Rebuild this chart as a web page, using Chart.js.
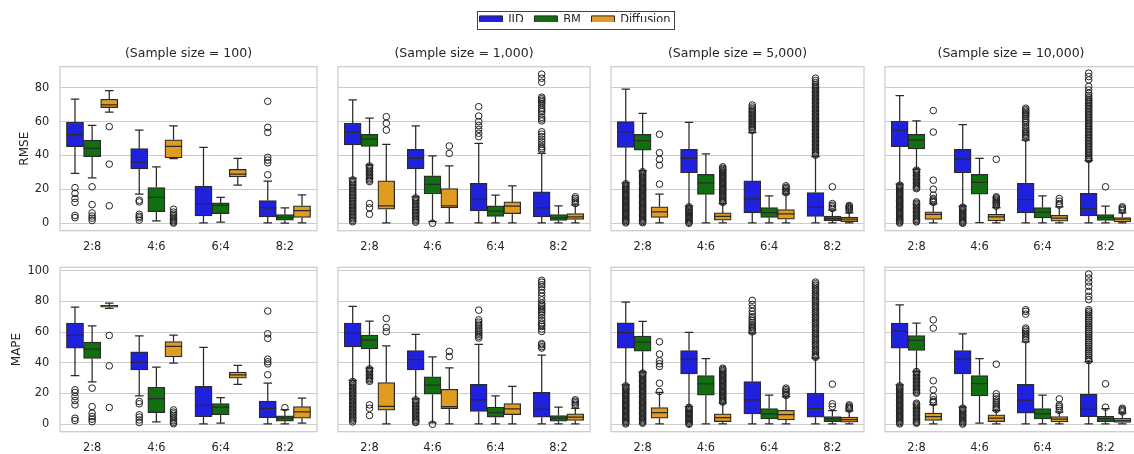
<!DOCTYPE html>
<html>
<head>
<meta charset="utf-8">
<script src="https://cdn.jsdelivr.net/npm/chart.js@4.4.1/dist/chart.umd.min.js"></script>
<style>
  html, body { margin: 0; padding: 0; background: #ffffff; }
  body { width: 1134px; height: 454px; position: relative; overflow: hidden; }
  canvas { position: absolute; }
</style>
</head>
<body>
<script>
// ---- categories and labels ----
const splits = ['2:8', '4:6', '6:4', '8:2'];
const methods = ['IID', 'BM', 'Diffusion'];
const methodColors = ['#2020df', '#107010', '#df9c20'];
const sampleSizes = ['100', '1,000', '5,000', '10,000'];
const rmseTicks = [0, 20, 40, 60, 80];
const mapeTicks = [0, 20, 40, 60, 80, 100];
const rmseRange = [-4.4, 92.4];
const mapeRange = [-4.87, 102.2];

// ---- box statistics per split: [lower whisker, Q1, median, Q3, upper whisker] ----
// RMSE
const rmse100Iid  = [[29.4, 45.2, 52.3, 59.6, 73.2], [17.2, 32.1, 36.1, 44.0, 55.0], [0.2, 4.3, 11.6, 21.9, 44.8], [0.2, 3.7, 9.1, 13.4, 24.9]];
const rmse100Bm   = [[26.8, 39.3, 44.2, 49.1, 57.8], [1.4, 6.9, 15.2, 21.1, 33.3], [0.6, 5.7, 10.5, 12.0, 15.2], [0.0, 1.8, 3.4, 5.1, 9.1]];
const rmse100Diff = [[65.6, 68.2, 69.8, 73.2, 78.3], [38.1, 38.5, 45.4, 49.3, 57.4], [22.5, 27.4, 29.0, 31.8, 38.3], [0.2, 3.4, 7.5, 10.3, 16.8]];

const rmse1000Iid  = [[26.6, 46.2, 53.6, 59.0, 72.8], [15.6, 32.0, 38.3, 43.6, 57.4], [0.2, 7.3, 14.2, 23.5, 47.1], [0.2, 3.7, 9.1, 18.5, 41.2]];
const rmse1000Bm   = [[34.3, 45.4, 49.7, 52.5, 62.1], [1.0, 17.4, 22.9, 28.0, 39.8], [0.2, 4.1, 7.1, 10.3, 16.6], [0.2, 1.6, 3.2, 5.1, 10.3]];
const rmse1000Diff = [[0.2, 8.3, 10.3, 25.0, 46.5], [0.2, 9.1, 10.3, 20.5, 33.9], [0.2, 5.7, 10.1, 12.6, 22.1], [0.2, 2.2, 3.7, 5.7, 10.8]];

const rmse5000Iid  = [[23.9, 44.8, 54.0, 60.0, 79.1], [10.3, 29.8, 38.3, 43.6, 59.6], [0.2, 6.1, 14.4, 25.0, 53.5], [0.2, 4.1, 9.3, 18.1, 39.3]];
const rmse5000Bm   = [[31.0, 43.2, 48.7, 52.5, 64.9], [0.2, 17.0, 23.9, 28.8, 41.0], [0.2, 3.4, 6.3, 9.3, 16.2], [0.2, 1.4, 2.8, 4.3, 7.7]];
const rmse5000Diff = [[0.2, 3.4, 6.7, 9.7, 17.2], [0.2, 1.8, 4.1, 6.1, 11.6], [0.2, 2.4, 5.5, 8.1, 17.4], [0.2, 1.0, 2.4, 3.7, 6.1]];

const rmse10000Iid  = [[23.1, 45.2, 55.0, 60.2, 75.3], [10.1, 29.8, 37.9, 43.6, 58.2], [0.2, 6.1, 14.0, 23.5, 49.1], [0.2, 4.3, 8.7, 17.6, 36.9]];
const rmse10000Bm   = [[31.8, 43.8, 49.1, 52.5, 60.4], [0.4, 17.2, 24.1, 28.8, 38.3], [0.2, 3.2, 6.5, 9.3, 16.2], [0.2, 1.6, 3.4, 5.1, 10.1]];
const rmse10000Diff = [[0.2, 2.2, 5.3, 6.7, 11.5], [0.2, 1.4, 3.7, 5.3, 9.2], [0.2, 1.2, 3.0, 4.7, 9.7], [0.2, 0.8, 2.4, 3.4, 6.1]];

// MAPE
const mape100Iid  = [[31.7, 49.6, 57.8, 65.9, 76.3], [18.5, 35.4, 40.4, 47.2, 57.6], [0.2, 5.0, 12.2, 24.6, 50.0], [0.2, 4.3, 10.4, 15.0, 26.7]];
const mape100Bm   = [[27.6, 42.8, 48.9, 53.5, 64.1], [1.5, 7.6, 16.7, 24.1, 37.2], [0.7, 6.3, 11.1, 13.5, 17.4], [0.2, 2.0, 3.9, 5.4, 9.5]];
const mape100Diff = [[75.4, 76.3, 77.0, 77.4, 78.9], [39.8, 43.9, 50.7, 53.9, 58.0], [25.9, 30.0, 32.2, 33.9, 38.3], [0.7, 3.9, 8.0, 11.5, 17.0]];

const mape1000Iid  = [[28.5, 50.4, 59.1, 65.9, 76.7], [16.5, 35.4, 42.0, 48.0, 58.5], [0.2, 8.3, 15.9, 25.9, 52.0], [0.2, 4.6, 9.8, 20.7, 45.0]];
const mape1000Bm   = [[36.5, 49.1, 54.8, 58.0, 67.2], [0.9, 19.6, 25.4, 30.9, 43.9], [0.2, 4.6, 7.6, 11.1, 18.5], [0.2, 2.0, 3.9, 5.7, 11.1]];
const mape1000Diff = [[0.2, 9.1, 11.7, 27.2, 51.1], [0.2, 10.2, 11.5, 22.8, 36.7], [0.2, 6.3, 10.0, 13.5, 24.6], [0.2, 2.4, 4.6, 6.7, 10.4]];

const mape5000Iid  = [[25.7, 49.6, 59.6, 66.1, 79.6], [11.5, 32.8, 42.4, 48.0, 59.8], [0.2, 6.7, 15.9, 27.8, 59.3], [0.2, 4.6, 10.4, 20.2, 43.0]];
const mape5000Bm   = [[33.9, 47.6, 53.5, 57.4, 67.0], [0.2, 18.9, 26.3, 31.7, 42.8], [0.2, 3.5, 6.7, 10.2, 18.9], [0.2, 1.7, 3.5, 5.0, 8.9]];
const mape5000Diff = [[0.2, 3.9, 7.6, 10.9, 20.7], [0.2, 1.7, 4.3, 6.7, 13.7], [0.2, 2.8, 6.3, 9.1, 18.0], [0.2, 1.3, 3.0, 4.6, 8.7]];

const mape10000Iid  = [[25.7, 49.6, 60.7, 65.9, 77.8], [11.1, 32.8, 42.4, 48.0, 58.9], [0.2, 7.2, 15.7, 25.9, 53.7], [0.2, 5.0, 9.8, 19.6, 40.7]];
const mape10000Bm   = [[34.3, 48.0, 54.6, 57.8, 65.9], [0.7, 18.5, 26.5, 31.7, 42.8], [0.2, 3.5, 6.7, 10.2, 18.9], [0.2, 1.7, 3.7, 5.2, 10.2]];
const mape10000Diff = [[0.2, 2.4, 5.0, 7.2, 12.8], [0.2, 1.7, 3.9, 6.1, 8.9], [0.2, 1.5, 3.3, 5.0, 7.8], [0.2, 1.1, 2.4, 3.9, 7.2]];

// ---- outliers per split ----
const rmse100IidOut  = [[21.0, 17.6, 14.6, 12.3, 4.6, 3.3], [13.6, 12.6, 5.3, 4.1, 3.2, 1.8], [], [72.0, 56.6, 53.6, 38.9, 37.3, 35.7, 28.6]];
const rmse100BmOut   = [[21.5, 11.0, 6.1, 4.3, 3.0, 1.6], [], [], []];
const rmse100DiffOut = [[57.0, 34.9, 10.3], [8.3, 6.6, 5.5, 4.6, 3.7, 2.9, 2.1, 1.4, 0.7, 0.1], [], []];

const rmse1000IidOut = [
  [25.6, 24.7, 23.9, 23.0, 22.2, 21.3, 20.5, 19.6, 18.7, 17.9, 17.0, 16.2, 15.3, 14.5, 13.6, 12.8, 11.9, 11.1, 10.2, 9.4, 8.5, 7.7, 6.8, 6.0, 5.1, 4.3, 3.4, 2.6, 1.7, 0.9],
  [15.0, 14.2, 13.3, 12.5, 11.6, 10.8, 9.9, 9.1, 8.2, 7.4, 6.5, 5.7, 4.8, 4.0, 3.1, 2.3, 1.4, 0.6],
  [68.8, 63.3, 60.0, 57.6, 55.4, 53.1, 51.1],
  [88.0, 85.6, 83.2, 74.4, 73.5, 72.6, 71.8, 70.7, 69.5, 67.9, 66.8, 65.9, 64.4, 62.5, 61.5, 60.4, 54.0, 52.6, 51.1, 49.6, 48.1, 46.7, 45.2, 44.1, 43.2]
];
const rmse1000BmOut   = [[33.8, 33.0, 32.2, 31.3, 30.5, 29.7, 28.8, 28.0, 27.2, 26.3, 25.5, 24.6, 11.6, 9.1, 5.3], [0.0], [], []];
const rmse1000DiffOut = [[62.9, 59.0, 55.0], [45.6, 41.2], [], [15.6, 14.6, 13.6, 12.6, 11.6]];

const rmse5000IidOut = [
  [23.3, 22.6, 21.9, 21.2, 20.5, 19.8, 19.1, 18.4, 17.7, 17.0, 16.3, 15.6, 14.9, 14.2, 13.5, 12.8, 12.1, 11.4, 10.7, 10.0, 9.3, 8.6, 7.9, 7.2, 6.5, 5.8, 5.1, 4.4, 3.7, 3.0, 2.3, 1.6, 0.9, 0.2],
  [9.7, 9.0, 8.3, 7.6, 6.9, 6.2, 5.5, 4.8, 4.1, 3.4, 2.7, 2.0, 1.3, 0.6, 0.0],
  [69.8, 68.6, 67.6, 66.8, 66.0, 65.2, 64.4, 63.6, 62.8, 62.0, 61.2, 60.4, 59.6, 58.8, 58.0, 57.2, 56.4, 55.6, 54.8],
  [85.6, 84.2, 83.0, 81.9, 81.0, 80.2, 79.4, 78.6, 77.8, 77.0, 76.2, 75.4, 74.6, 73.8, 73.0, 72.2, 71.4, 70.6, 69.8, 69.0, 68.2, 67.4, 66.6, 65.8, 65.0, 64.2, 63.4, 62.6, 61.8, 61.0, 60.2, 59.4, 58.6, 57.8, 57.0, 56.2, 55.4, 54.6, 53.8, 53.0, 52.2, 51.4, 50.6, 49.8, 49.0, 48.2, 47.4, 46.6, 45.8, 45.0, 44.2, 43.4, 42.6, 41.8, 41.0, 40.2]
];
const rmse5000BmOut = [
  [30.4, 29.7, 29.0, 28.3, 27.6, 26.9, 26.2, 25.5, 24.8, 24.1, 23.4, 22.7, 22.0, 21.3, 20.6, 19.9, 19.2, 18.5, 17.8, 17.1, 16.4, 15.7, 15.0, 14.3, 13.6, 12.9, 12.2, 11.5, 10.8, 10.1, 9.4, 8.7, 8.0, 7.3, 6.6, 5.9, 5.2, 4.5, 3.8, 3.1, 2.4, 1.7, 1.0, 0.3],
  [], [], [21.5, 11.6, 10.6, 9.7, 8.7]
];
const rmse5000DiffOut = [
  [52.5, 41.6, 37.7, 34.3, 23.1],
  [33.3, 32.5, 31.8, 31.1, 30.4, 29.7, 29.0, 28.3, 27.6, 26.9, 26.2, 25.5, 24.8, 24.1, 23.4, 22.7, 22.0, 21.3, 20.6, 19.9, 19.2, 18.5, 17.8, 17.1, 16.4, 15.7, 15.0, 14.3, 13.6, 12.9, 12.3],
  [22.1, 21.2, 20.4, 19.6, 18.8, 18.0],
  [10.5, 9.9, 9.3, 8.7, 8.1, 7.6]
];

const rmse10000IidOut = [
  [22.5, 21.8, 21.1, 20.4, 19.7, 19.0, 18.3, 17.6, 16.9, 16.2, 15.5, 14.8, 14.1, 13.4, 12.7, 12.0, 11.3, 10.6, 9.9, 9.2, 8.5, 7.8, 7.1, 6.4, 5.7, 5.0, 4.3, 3.6, 2.9, 2.2, 1.5, 0.8, 0.1],
  [9.5, 8.8, 8.1, 7.4, 6.7, 6.0, 5.3, 4.6, 3.9, 3.2, 2.5, 1.8, 1.1, 0.4, 0.0],
  [67.9, 67.0, 66.2, 65.4, 64.6, 63.8, 62.9, 61.8, 60.6, 59.4, 58.0, 56.5, 55.2, 54.2, 53.4, 52.6, 51.8, 51.0, 50.2],
  [88.6, 86.6, 84.6, 80.7, 78.7, 76.7, 75.4, 74.2, 73.2, 72.3, 71.4, 70.5, 69.6, 68.7, 67.8, 66.9, 66.0, 65.1, 64.2, 63.3, 62.4, 61.5, 60.6, 59.7, 58.8, 57.9, 57.0, 56.1, 55.2, 54.3, 53.4, 52.5, 51.6, 50.7, 49.8, 48.9, 48.0, 47.1, 46.2, 45.3, 44.4, 43.5, 42.6, 41.7, 40.8, 39.9, 39.0, 38.1, 37.6]
];
const rmse10000BmOut = [
  [31.4, 30.6, 29.8, 29.0, 28.2, 27.4, 26.6, 25.8, 25.0, 24.2, 23.4, 22.6, 21.8, 21.0, 20.4, 12.6, 11.8, 11.0, 10.2, 9.4, 8.6, 7.8, 7.0, 6.2, 5.4, 4.6, 3.8, 3.0, 2.2, 1.4, 0.8],
  [], [], [21.5]
];
const rmse10000DiffOut = [
  [66.5, 53.8, 25.4, 20.1, 16.6, 14.6, 13.8, 13.0, 12.3],
  [37.7, 15.6, 15.0, 14.3, 13.6, 12.9, 12.2, 11.5, 10.8, 10.1],
  [14.6, 13.0, 11.6, 10.7],
  [9.7, 9.0, 8.3, 7.5]
];

const mape100IidOut  = [[22.4, 20.7, 18.0, 15.4, 12.6, 3.9, 2.4], [14.8, 13.3, 6.1, 4.6, 2.8, 1.1], [], [73.7, 58.9, 55.9, 42.4, 40.7, 39.3, 32.2]];
const mape100BmOut   = [[23.5, 11.5, 7.2, 5.0, 3.3, 1.7], [], [], [10.8]];
const mape100DiffOut = [[57.8, 38.0, 10.9], [9.3, 7.9, 6.8, 5.6, 4.5, 3.4, 2.3, 1.2, 0.3], [], []];

const mape1000IidOut = [
  [27.8, 26.9, 26.0, 25.1, 24.2, 23.3, 22.4, 21.5, 20.6, 19.7, 18.8, 17.9, 17.0, 16.1, 15.2, 14.3, 13.4, 12.5, 11.6, 10.7, 9.8, 8.9, 8.0, 7.1, 6.2, 5.3, 4.4, 3.5, 2.6, 1.5],
  [15.9, 15.0, 14.1, 13.2, 12.3, 11.4, 10.5, 9.6, 8.7, 7.8, 6.9, 6.0, 5.1, 4.2, 3.3, 2.4, 1.5, 1.1],
  [74.3, 68.0, 66.5, 65.2, 63.9, 62.6, 61.4, 60.4, 59.3, 58.3, 57.2, 56.1],
  [93.7, 92.5, 90.9, 89.5, 87.6, 85.5, 83.3, 81.0, 78.9, 77.8, 76.7, 75.6, 74.6, 73.5, 72.4, 71.0, 69.1, 67.5, 65.9, 64.8, 63.7, 62.0, 60.4, 52.5, 51.7, 50.5, 49.6]
];
const mape1000BmOut   = [[36.0, 35.1, 34.2, 33.3, 32.4, 31.5, 30.6, 29.7, 28.8, 27.9, 12.6, 10.4, 5.7], [0.0], [], []];
const mape1000DiffOut = [[68.9, 63.0, 60.2], [47.4, 44.1], [], [15.9, 15.0, 14.0, 13.0, 12.0]];

const mape5000IidOut = [
  [25.0, 24.2, 23.4, 22.6, 21.8, 21.0, 20.2, 19.4, 18.6, 17.8, 17.0, 16.2, 15.4, 14.6, 13.8, 13.0, 12.2, 11.4, 10.6, 9.8, 9.0, 8.2, 7.4, 6.6, 5.8, 5.0, 4.2, 3.4, 2.6, 1.8, 1.0, 0.2],
  [11.0, 10.2, 9.4, 8.6, 7.8, 7.0, 6.2, 5.4, 4.6, 3.8, 3.0, 2.2, 1.4, 0.6, 0.0],
  [80.7, 78.0, 75.6, 73.5, 71.6, 70.0, 68.6, 67.4, 66.2, 65.1, 64.0, 63.0, 62.0, 61.0, 60.1],
  [92.6, 91.5, 90.4, 89.3, 88.2, 87.1, 86.0, 84.9, 83.8, 82.7, 81.6, 80.5, 79.4, 78.3, 77.2, 76.1, 75.0, 73.9, 72.8, 71.7, 70.6, 69.5, 68.4, 67.3, 66.2, 65.1, 64.0, 62.9, 61.8, 60.7, 59.6, 58.5, 57.4, 56.3, 55.2, 54.1, 53.0, 51.9, 50.8, 49.7, 48.6, 47.5, 46.4, 45.3, 44.2, 43.6]
];
const mape5000BmOut = [
  [33.3, 32.5, 31.7, 30.9, 30.1, 29.3, 28.5, 27.7, 26.9, 26.1, 25.3, 24.5, 23.7, 22.9, 22.1, 21.3, 20.5, 19.7, 18.9, 18.1, 17.3, 16.5, 15.7, 14.9, 14.1, 13.3, 12.5, 11.7, 10.9, 10.1, 9.3, 8.5, 7.7, 6.9, 6.1, 5.3, 4.5, 3.7, 2.9, 2.1, 1.3, 0.7],
  [], [], [26.1, 13.3, 11.5]
];
const mape5000DiffOut = [
  [53.7, 45.7, 41.3, 39.4, 37.6, 26.7, 21.3],
  [36.5, 35.7, 34.9, 34.1, 33.3, 32.5, 31.7, 30.9, 30.1, 29.3, 28.5, 27.7, 26.9, 26.1, 25.3, 24.5, 23.7, 22.9, 22.1, 21.3, 20.5, 19.7, 18.9, 18.1, 17.3, 16.5, 15.7, 14.9, 14.4],
  [23.5, 22.5, 21.5, 20.5, 19.5, 18.7],
  [12.6, 11.8, 11.0, 10.3, 9.8]
];

const mape10000IidOut = [
  [25.0, 24.2, 23.4, 22.6, 21.8, 21.0, 20.2, 19.4, 18.6, 17.8, 17.0, 16.2, 15.4, 14.6, 13.8, 13.0, 12.2, 11.4, 10.6, 9.8, 9.0, 8.2, 7.4, 6.6, 5.8, 5.0, 4.2, 3.4, 2.6, 1.8, 1.0, 0.2],
  [10.5, 9.7, 8.9, 8.1, 7.3, 6.5, 5.7, 4.9, 4.1, 3.3, 2.5, 1.7, 0.9, 0.1],
  [74.6, 73.5, 71.7, 62.6, 61.5, 60.4, 59.3, 58.3, 57.2, 56.1, 55.0],
  [97.8, 95.2, 92.6, 89.8, 86.5, 83.3, 81.1, 74.6, 73.5, 72.4, 71.2, 70.0, 68.8, 67.6, 66.4, 65.2, 64.0, 62.8, 61.6, 60.4, 59.2, 58.0, 56.8, 55.6, 54.4, 53.2, 52.0, 50.8, 49.6, 48.4, 47.2, 46.0, 44.8, 43.6, 42.4, 41.4]
];
const mape10000BmOut = [
  [34.3, 33.4, 32.5, 31.6, 30.7, 29.8, 28.9, 28.0, 27.1, 26.2, 25.3, 24.4, 23.5, 22.6, 21.7, 20.8, 20.2, 13.7, 12.8, 11.9, 11.0, 10.1, 9.2, 8.3, 7.4, 6.5, 5.6, 4.7, 3.8, 2.9, 2.0, 1.1, 0.7],
  [], [], [26.3, 11.1]
];
const mape10000DiffOut = [
  [68.0, 62.6, 28.3, 22.4, 18.0, 15.9, 14.8, 14.1],
  [39.1, 19.8, 18.0, 16.5, 15.0, 13.8, 12.6, 11.5, 10.5, 9.6],
  [16.5, 12.6, 11.5, 10.4, 9.0],
  [10.4, 9.6, 8.8, 8.0]
];

// ---- grouping of the arrays by panel ----
const rmseStats = [
  [rmse100Iid, rmse100Bm, rmse100Diff], [rmse1000Iid, rmse1000Bm, rmse1000Diff],
  [rmse5000Iid, rmse5000Bm, rmse5000Diff], [rmse10000Iid, rmse10000Bm, rmse10000Diff]
];
const rmseOutliers = [
  [rmse100IidOut, rmse100BmOut, rmse100DiffOut], [rmse1000IidOut, rmse1000BmOut, rmse1000DiffOut],
  [rmse5000IidOut, rmse5000BmOut, rmse5000DiffOut], [rmse10000IidOut, rmse10000BmOut, rmse10000DiffOut]
];
const mapeStats = [
  [mape100Iid, mape100Bm, mape100Diff], [mape1000Iid, mape1000Bm, mape1000Diff],
  [mape5000Iid, mape5000Bm, mape5000Diff], [mape10000Iid, mape10000Bm, mape10000Diff]
];
const mapeOutliers = [
  [mape100IidOut, mape100BmOut, mape100DiffOut], [mape1000IidOut, mape1000BmOut, mape1000DiffOut],
  [mape5000IidOut, mape5000BmOut, mape5000DiffOut], [mape10000IidOut, mape10000BmOut, mape10000DiffOut]
];

// ---- look and layout ----
const LINE = '#2a2a2a';
const FLIER = '#222222';
const TEXT = '#262626';
const GRID = '#cccccc';
const COL_LEFT = [60, 333.3, 606.7, 880];
const PANEL_W = 259.5;
const ROWS = [
  { top: 40, panelTop: 66.7, panelBottom: 230.7, bottom: 255, yTitlePad: 17.8 },
  { top: 262, panelTop: 267.3, panelBottom: 431.7, bottom: 454, yTitlePad: 9.8 }
];
const GROUP_WIDTH = 0.8;           // share of a split taken by its three boxes
const BOX_STEP = GROUP_WIDTH / 3;  // distance between neighbouring boxes, in split units
const X_RANGE = [-0.5, splits.length - 0.5];

Chart.defaults.font.family = "'DejaVu Sans', sans-serif";
Chart.defaults.color = TEXT;

// whiskers, caps and median lines for each floating bar (box)
const boxWhiskers = {
  id: 'boxWhiskers',
  afterDatasetDraw(chart, args) {
    const ds = chart.data.datasets[args.index];
    if (!ds.stats) return;
    const y = chart.scales.y;
    const ctx = chart.ctx;
    ctx.save();
    ctx.strokeStyle = LINE;
    ctx.lineWidth = 1.25;
    args.meta.data.forEach((bar, i) => {
      const s = ds.stats[i];
      const { x, width } = bar.getProps(['x', 'width'], true);
      const half = width / 2;
      const cap = width / 4;
      const yLo = y.getPixelForValue(s[0]);
      const yQ1 = y.getPixelForValue(s[1]);
      const yMed = y.getPixelForValue(s[2]);
      const yQ3 = y.getPixelForValue(s[3]);
      const yHi = y.getPixelForValue(s[4]);
      ctx.beginPath();
      ctx.moveTo(x, yQ1); ctx.lineTo(x, yLo);
      ctx.moveTo(x - cap, yLo); ctx.lineTo(x + cap, yLo);
      ctx.moveTo(x, yQ3); ctx.lineTo(x, yHi);
      ctx.moveTo(x - cap, yHi); ctx.lineTo(x + cap, yHi);
      ctx.moveTo(x - half, yMed); ctx.lineTo(x + half, yMed);
      ctx.stroke();
    });
    ctx.restore();
  }
};

// light frame around each plotting area
const panelFrame = {
  id: 'panelFrame',
  beforeDatasetsDraw(chart) {
    const { ctx, chartArea: a } = chart;
    ctx.save();
    ctx.strokeStyle = GRID;
    ctx.lineWidth = 1.25;
    ctx.strokeRect(a.left, a.top, a.right - a.left, a.bottom - a.top);
    ctx.restore();
  }
};

function buildPanel(row, col, stats, outliers, yRange, yTicks, yLabel) {
  const R = ROWS[row];
  const cssLeft = col === 0 ? 0 : Math.floor(COL_LEFT[col]);
  const axisW = col === 0 ? COL_LEFT[0] : 0;
  const padLeft = col === 0 ? 0 : COL_LEFT[col] - cssLeft;
  const right = COL_LEFT[col] + PANEL_W;
  const width = Math.ceil(right + 2) - cssLeft;
  const padRight = width - (right - cssLeft);
  const height = R.bottom - R.top;
  const titleH = row === 0 ? 20 : 0;
  const padTop = R.panelTop - R.top - titleH;
  const xAxisH = R.bottom - R.panelBottom;

  const canvas = document.createElement('canvas');
  canvas.width = width;
  canvas.height = height;
  canvas.style.left = cssLeft + 'px';
  canvas.style.top = R.top + 'px';
  canvas.style.width = width + 'px';
  canvas.style.height = height + 'px';
  document.body.appendChild(canvas);

  const datasets = [];
  methods.forEach((m, j) => {
    datasets.push({
      type: 'bar', label: m,
      data: stats[j].map((s, i) => ({ x: i + (j - 1) * BOX_STEP, y: [s[1], s[3]] })),
      stats: stats[j],
      backgroundColor: methodColors[j], borderColor: LINE, borderWidth: 1.25, borderSkipped: false,
      grouped: false, categoryPercentage: 1, barPercentage: 1
    });
  });
  methods.forEach((m, j) => {
    const pts = [];
    outliers[j].forEach((vals, i) => {
      vals.forEach(v => pts.push({ x: i + (j - 1) * BOX_STEP, y: v }));
    });
    datasets.push({
      type: 'scatter', label: m + ' outliers', data: pts, showLine: false,
      pointStyle: 'circle', pointRadius: 3.3, pointBorderWidth: 1,
      pointBackgroundColor: 'rgba(0,0,0,0)', pointBorderColor: FLIER
    });
  });

  new Chart(canvas, {
    type: 'bar',
    data: { datasets },
    options: {
      responsive: false, animation: false, events: [], devicePixelRatio: 1,
      layout: { padding: { left: padLeft, right: padRight, top: padTop, bottom: 0 } },
      plugins: {
        legend: { display: false },
        tooltip: { enabled: false },
        title: {
          display: row === 0, text: '(Sample size = ' + sampleSizes[col] + ')',
          font: { size: 12.5, weight: 'normal' }, color: TEXT,
          padding: { top: 0, bottom: 5 }, fullSize: false
        }
      },
      scales: {
        x: {
          type: 'linear', bounds: 'data', offset: false,
          afterDataLimits: s => { s.min = X_RANGE[0]; s.max = X_RANGE[1]; },
          afterBuildTicks: s => { s.ticks = splits.map((_, i) => ({ value: i })); },
          grid: { display: false, drawTicks: false }, border: { display: false },
          ticks: {
            padding: 9.5, font: { size: 11.4 }, color: TEXT, maxRotation: 0, autoSkip: false,
            callback: v => splits[v]
          },
          afterFit: s => { s.height = xAxisH; s.paddingLeft = 0; s.paddingRight = 0; }
        },
        y: {
          type: 'linear', bounds: 'data',
          afterDataLimits: s => { s.min = yRange[0]; s.max = yRange[1]; },
          afterBuildTicks: s => { s.ticks = yTicks.map(v => ({ value: v })); },
          grid: { color: GRID, lineWidth: 1, drawTicks: false }, border: { display: false },
          ticks: { display: col === 0, padding: 10.7, font: { size: 11.4 }, color: TEXT },
          title: { display: col === 0, text: yLabel, font: { size: 12 }, color: TEXT, padding: { top: R.yTitlePad, bottom: 0 } },
          afterFit: s => { s.width = axisW; s.paddingTop = 0; s.paddingBottom = 0; }
        }
      }
    },
    plugins: [panelFrame, boxWhiskers]
  });
}

for (let c = 0; c < 4; c++) {
  buildPanel(0, c, rmseStats[c], rmseOutliers[c], rmseRange, rmseTicks, 'RMSE');
  buildPanel(1, c, mapeStats[c], mapeOutliers[c], mapeRange, mapeTicks, 'MAPE');
}

// ---- shared legend ----
const legendFrame = {
  id: 'legendFrame',
  afterDraw(chart) {
    const boxes = chart.legend.legendHitBoxes;
    if (!boxes || !boxes.length) return;
    const last = boxes[boxes.length - 1];
    const l = boxes[0].left - 3;
    const r = last.left + last.width + 3;
    const cy = boxes[0].top + boxes[0].height / 2;
    const ctx = chart.ctx;
    ctx.save();
    ctx.strokeStyle = '#444444';
    ctx.lineWidth = 1;
    ctx.strokeRect(Math.round(l) + 0.5, Math.round(cy - 9.2) + 0.5, Math.round(r - l), 18);
    ctx.restore();
  }
};
const legendCanvas = document.createElement('canvas');
legendCanvas.width = 230;
legendCanvas.height = 36;
legendCanvas.style.left = '460px';
legendCanvas.style.top = '4px';
legendCanvas.style.width = '230px';
legendCanvas.style.height = '36px';
document.body.appendChild(legendCanvas);
new Chart(legendCanvas, {
  type: 'bar',
  data: {
    labels: [],
    datasets: methods.map((m, j) => ({ label: m, data: [], backgroundColor: methodColors[j], borderColor: LINE, borderWidth: 1 }))
  },
  options: {
    responsive: false, animation: false, events: [], devicePixelRatio: 1,
    layout: { padding: 0 },
    scales: { x: { display: false }, y: { display: false } },
    plugins: {
      tooltip: { enabled: false },
      legend: {
        display: true, position: 'top', align: 'center',
        labels: { boxWidth: 23, boxHeight: 9, padding: 10.7, color: TEXT, font: { size: 11.4 } }
      }
    }
  },
  plugins: [legendFrame]
});
</script>
</body>
</html>
